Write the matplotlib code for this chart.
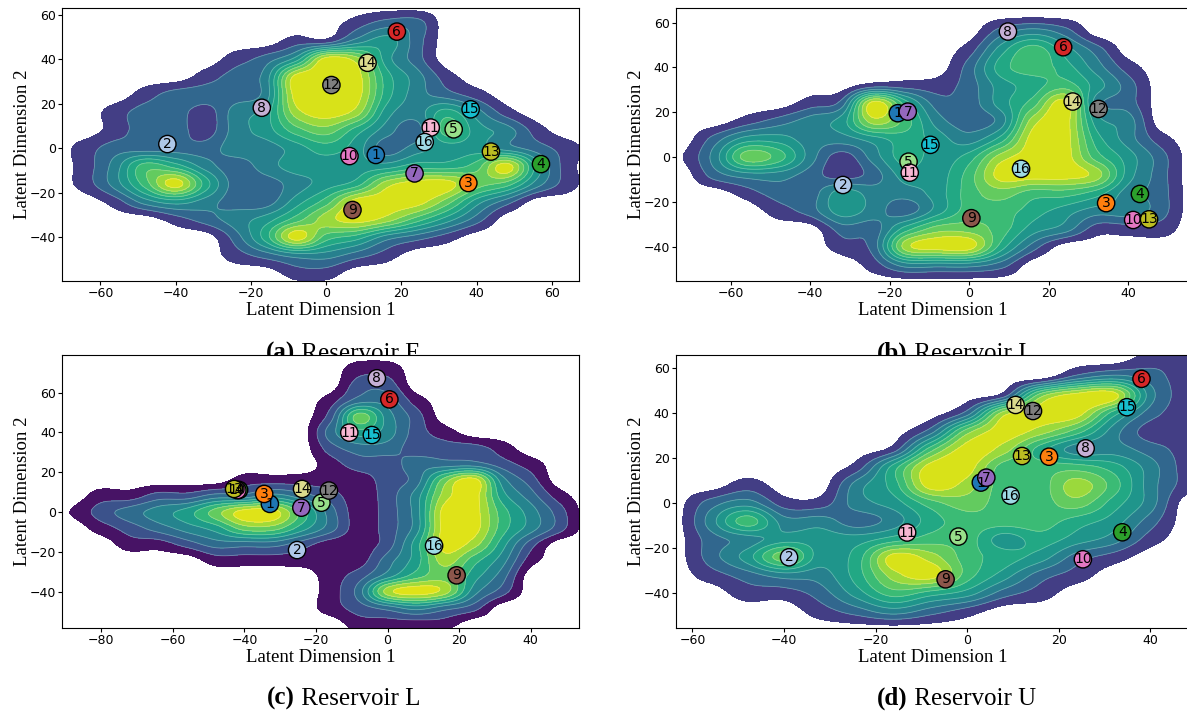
import matplotlib
matplotlib.use("Agg")
import matplotlib.pyplot as plt
import numpy as np

W, H = 1187, 711

# numbered points 1..16 per reservoir
E_X = [13.2, -42.2, 37.8, 57.1, 33.9, 18.8, 23.5, -17.1, 7.0, 6.2, 27.8, 1.4, 43.8, 11.0, 38.4, 26.2]
E_Y = [-3.0, 1.9, -15.6, -7.1, 8.5, 52.4, -11.3, 18.2, -27.7, -3.5, 9.3, 28.4, -1.5, 38.4, 17.5, 2.8]

I_X = [-18.0, -31.8, 34.4, 42.9, -15.3, 23.6, -15.5, 9.7, 0.5, 41.2, -15.0, 32.5, 45.2, 26.0, -9.8, 13.0]
I_Y = [19.6, -12.4, -20.5, -16.4, -2.0, 49.0, 20.3, 56.0, -27.2, -28.0, -6.9, 21.5, -27.7, 24.8, 5.5, -5.2]

L_X = [-32.9, -25.3, -34.5, -41.5, -18.5, 0.5, -24.1, -3.0, 19.3, -42.0, -10.7, -16.4, -42.9, -23.9, -4.4, 13.0]
L_Y = [4.1, -19.1, 9.1, 11.1, 4.7, 56.6, 2.2, 67.2, -31.8, 11.0, 39.9, 10.8, 11.6, 11.6, 38.7, -16.9]

U_X = [3.0, -38.9, 17.9, 33.9, -1.9, 38.1, 4.2, 25.9, -4.7, 25.3, -13.1, 14.4, 12.0, 10.6, 34.9, 9.5]
U_Y = [9.2, -24.0, 20.7, -12.9, -14.8, 55.3, 11.4, 24.4, -33.8, -24.9, -13.0, 41.0, 21.0, 43.7, 42.7, 3.4]

# density band (0 = outside, 1 = outer purple ... 9 = yellow) read on an 8-unit lattice
E_GX = [-72, -64, -56, -48, -40, -32, -24, -16, -8, 0, 8, 16, 24, 32, 40, 48, 56, 64, 72]
E_GY = [64, 56, 48, 40, 32, 24, 16, 8, 0, -8, -16, -24, -32, -40, -48, -56, -64]
E_BANDS = [
    [0, 0, 0, 0, 0, 0, 0, 0, 0, 0, 0, 0, 0, 0, 0, 0, 0, 0, 0],
    [0, 0, 0, 0, 0, 0, 0, 0, 0, 0, 1, 2, 2, 0, 0, 0, 0, 0, 0],
    [0, 0, 0, 0, 0, 0, 0, 0, 1, 1, 3, 4, 2, 0, 0, 0, 0, 0, 0],
    [0, 0, 0, 0, 0, 0, 1, 2, 4, 9, 8, 4, 2, 0, 0, 0, 0, 0, 0],
    [0, 0, 0, 0, 0, 1, 2, 3, 9, 9, 9, 5, 3, 1, 0, 0, 0, 0, 0],
    [0, 0, 0, 1, 2, 2, 2, 3, 9, 9, 9, 5, 3, 2, 1, 0, 0, 0, 0],
    [0, 0, 1, 2, 2, 1, 3, 4, 8, 9, 8, 4, 3, 5, 3, 1, 0, 0, 0],
    [0, 0, 1, 2, 2, 1, 3, 4, 6, 7, 5, 3, 2, 6, 4, 3, 1, 0, 0],
    [0, 1, 2, 2, 2, 2, 3, 3, 4, 5, 4, 2, 3, 4, 4, 3, 2, 1, 0],
    [0, 1, 3, 6, 5, 3, 2, 3, 4, 4, 4, 4, 5, 5, 6, 9, 4, 1, 0],
    [0, 1, 3, 6, 9, 5, 2, 2, 3, 4, 5, 8, 9, 9, 7, 6, 3, 1, 0],
    [0, 0, 1, 3, 4, 3, 2, 2, 4, 6, 9, 9, 9, 7, 4, 2, 0, 0, 0],
    [0, 0, 0, 0, 1, 2, 3, 4, 6, 8, 9, 8, 6, 4, 2, 0, 0, 0, 0],
    [0, 0, 0, 0, 0, 0, 2, 5, 9, 6, 5, 3, 2, 1, 0, 0, 0, 0, 0],
    [0, 0, 0, 0, 0, 0, 1, 2, 3, 3, 2, 1, 0, 0, 0, 0, 0, 0, 0],
    [0, 0, 0, 0, 0, 0, 0, 0, 1, 1, 0, 0, 0, 0, 0, 0, 0, 0, 0],
    [0, 0, 0, 0, 0, 0, 0, 0, 0, 0, 0, 0, 0, 0, 0, 0, 0, 0, 0],
]

I_GX = [-80, -72, -64, -56, -48, -40, -32, -24, -16, -8, 0, 8, 16, 24, 32, 40, 48, 56, 64]
I_GY = [72, 64, 56, 48, 40, 32, 24, 16, 8, 0, -8, -16, -24, -32, -40, -48, -56, -64]
I_BANDS = [
    [0, 0, 0, 0, 0, 0, 0, 0, 0, 0, 0, 0, 0, 0, 0, 0, 0, 0, 0],
    [0, 0, 0, 0, 0, 0, 0, 0, 0, 0, 0, 0, 0, 0, 0, 0, 0, 0, 0],
    [0, 0, 0, 0, 0, 0, 0, 0, 0, 0, 0, 2, 3, 2, 0, 0, 0, 0, 0],
    [0, 0, 0, 0, 0, 0, 0, 0, 0, 0, 1, 4, 6, 4, 2, 0, 0, 0, 0],
    [0, 0, 0, 0, 0, 0, 0, 0, 0, 0, 2, 5, 6, 5, 3, 1, 0, 0, 0],
    [0, 0, 0, 0, 0, 0, 0, 1, 1, 1, 2, 4, 5, 6, 4, 2, 0, 0, 0],
    [0, 0, 0, 0, 0, 1, 2, 9, 5, 2, 2, 4, 6, 9, 3, 2, 0, 0, 0],
    [0, 0, 0, 1, 2, 3, 4, 8, 6, 3, 2, 3, 8, 9, 4, 3, 0, 0, 0],
    [0, 0, 2, 4, 4, 3, 3, 4, 5, 4, 3, 5, 9, 9, 5, 3, 1, 0, 0],
    [0, 0.5, 3, 7, 6, 3, 1, 3, 5, 4, 5, 8, 9, 9, 6, 4, 2, 0, 0],
    [0, 0, 2, 3, 3, 2, 1, 2, 4, 4, 6, 9, 9, 9, 8, 4, 2, 0, 0],
    [0, 0, 0, 1, 2, 2, 4, 3, 3, 4, 6, 7, 6, 6, 5, 3, 2, 0, 0],
    [0, 0, 0, 0, 1, 2, 4, 3, 2, 4, 6, 6, 5, 4, 3, 3, 2, 0, 0],
    [0, 0, 0, 0, 0, 0, 2, 2, 5, 7, 7, 6, 4, 3, 1, 1, 1, 0, 0],
    [0, 0, 0, 0, 0, 0, 1, 2, 8, 9, 9, 5, 2, 0, 0, 0, 0, 0, 0],
    [0, 0, 0, 0, 0, 0, 0, 1, 3, 3, 3, 2, 0, 0, 0, 0, 0, 0, 0],
    [0, 0, 0, 0, 0, 0, 0, 0, 0, 0, 0, 0, 0, 0, 0, 0, 0, 0, 0],
    [0, 0, 0, 0, 0, 0, 0, 0, 0, 0, 0, 0, 0, 0, 0, 0, 0, 0, 0],
]

L_GX = [-96, -88, -80, -72, -64, -56, -48, -40, -32, -24, -16, -8, 0, 8, 16, 24, 32, 40, 48, 56, 64]
L_GY = [88, 80, 72, 64, 56, 48, 40, 32, 24, 16, 8, 0, -8, -16, -24, -32, -40, -48, -56, -64]
L_BANDS = [
    [0, 0, 0, 0, 0, 0, 0, 0, 0, 0, 0, 0, 0, 0, 0, 0, 0, 0, 0, 0, 0],
    [0, 0, 0, 0, 0, 0, 0, 0, 0, 0, 0, 0, 0, 0, 0, 0, 0, 0, 0, 0, 0],
    [0, 0, 0, 0, 0, 0, 0, 0, 0, 0, 0, 1, 1, 0, 0, 0, 0, 0, 0, 0, 0],
    [0, 0, 0, 0, 0, 0, 0, 0, 0, 0, 0, 2, 2, 0, 0, 0, 0, 0, 0, 0, 0],
    [0, 0, 0, 0, 0, 0, 0, 0, 0, 0, 1, 3, 3, 1, 0, 0, 0, 0, 0, 0, 0],
    [0, 0, 0, 0, 0, 0, 0, 0, 0, 0, 2, 7, 4, 2, 0, 0, 0, 0, 0, 0, 0],
    [0, 0, 0, 0, 0, 0, 0, 0, 0, 0, 3, 5, 4, 2, 1, 0, 0, 0, 0, 0, 0],
    [0, 0, 0, 0, 0, 0, 0, 0, 0, 0, 2, 3, 3, 2, 2, 2, 1, 0, 0, 0, 0],
    [0, 0, 0, 0, 0, 0, 0, 0, 0, 0, 1, 2, 2, 3, 3, 3, 2, 1, 0, 0, 0],
    [0, 0, 0, 0, 0, 0, 0, 1, 1, 1, 1, 1, 2, 3, 7, 9, 4, 2, 0, 0, 0],
    [0, 0, 1, 1, 2, 2, 3, 3, 4, 3, 2, 1, 2, 4, 8, 9, 5, 3, 1, 0, 0],
    [0, 0.6, 2, 3, 4, 5, 7, 9, 9, 6, 3, 1, 2, 4, 9, 9, 6, 4, 2, 0, 0],
    [0, 0, 1, 2, 3, 4, 5, 7, 7, 5, 3, 1, 2, 4, 9, 9, 6, 4, 2, 0, 0],
    [0, 0, 0, 1, 1, 2, 3, 3, 3, 2, 1, 1, 2, 5, 9, 8, 5, 2, 0, 0, 0],
    [0, 0, 0, 0, 0, 0, 1, 1, 1, 1, 1, 1, 3, 5, 8, 6, 4, 1, 0, 0, 0],
    [0, 0, 0, 0, 0, 0, 0, 0, 0, 0, 1, 2, 4, 6, 7, 5, 3, 0, 0, 0, 0],
    [0, 0, 0, 0, 0, 0, 0, 0, 0, 0, 1, 3, 8, 9, 8, 4, 2, 0, 0, 0, 0],
    [0, 0, 0, 0, 0, 0, 0, 0, 0, 0, 1, 2, 3, 4, 3, 2, 0, 0, 0, 0, 0],
    [0, 0, 0, 0, 0, 0, 0, 0, 0, 0, 0, 1, 1, 1, 1, 0, 0, 0, 0, 0, 0],
    [0, 0, 0, 0, 0, 0, 0, 0, 0, 0, 0, 0, 0, 0, 0, 0, 0, 0, 0, 0, 0],
]

U_GX = [-72, -64, -56, -48, -40, -32, -24, -16, -8, 0, 8, 16, 24, 32, 40, 48, 56]
U_GY = [72, 64, 56, 48, 40, 32, 24, 16, 8, 0, -8, -16, -24, -32, -40, -48, -56, -64]
U_BANDS = [
    [0, 0, 0, 0, 0, 0, 0, 0, 0, 0, 0, 0, 0, 0, 0, 0, 0],
    [0, 0, 0, 0, 0, 0, 0, 0, 0, 0, 0, 0, 0, 0, 1, 1, 0],
    [0, 0, 0, 0, 0, 0, 0, 0, 0, 0, 0, 0, 2, 3, 2, 1, 1],
    [0, 0, 0, 0, 0, 0, 0, 0, 0, 0, 1, 7, 9, 9, 3, 1, 1],
    [0, 0, 0, 0, 0, 0, 0, 0, 0, 2, 8, 9, 9, 5, 2, 1, 1],
    [0, 0, 0, 0, 0, 0, 0, 0, 2, 7, 9, 8, 6, 3, 1, 1, 0],
    [0, 0, 0, 0, 0, 0, 0, 1, 6, 9, 8, 5, 3, 3, 2, 1, 0],
    [0, 0, 0, 0, 0, 0, 1, 5, 9, 9, 6, 6, 6, 5, 3, 1, 0],
    [0, 0, 0, 1, 0, 0, 3, 5, 9, 8, 6, 6, 8, 6, 3, 1, 0],
    [0, 0, 2, 3, 1, 1, 3, 4, 6, 7, 6, 6, 7, 5, 3, 0, 0],
    [0, 0, 3, 6, 3, 3, 2, 3, 5, 6, 6, 6, 5, 4, 2, 0, 0],
    [0, 0, 2, 3, 4, 4, 4, 5, 6, 6, 4, 5, 4, 3, 1, 0, 0],
    [0, 0, 2, 4, 7, 4, 5, 9, 8, 6, 5, 4, 2, 1, 0, 0, 0],
    [0, 0, 1, 2, 3, 3, 5, 8, 9, 6, 4, 2, 1, 0, 0, 0, 0],
    [0, 0, 0, 1, 1, 2, 4, 6, 5, 4, 2, 1, 0, 0, 0, 0, 0],
    [0, 0, 0, 0, 0, 1, 2, 3, 2, 1, 0, 0, 0, 0, 0, 0, 0],
    [0, 0, 0, 0, 0, 0, 0, 0, 0, 0, 0, 0, 0, 0, 0, 0, 0],
    [0, 0, 0, 0, 0, 0, 0, 0, 0, 0, 0, 0, 0, 0, 0, 0, 0],
]

# viridis position of each band, outer purple to yellow
E_SHADES = [0.18, 0.33, 0.43, 0.52, 0.60, 0.68, 0.76, 0.85, 0.94]
I_SHADES = [0.18, 0.33, 0.43, 0.52, 0.60, 0.68, 0.76, 0.85, 0.94]
L_SHADES = [0.05, 0.25, 0.35, 0.45, 0.55, 0.66, 0.76, 0.86, 0.95]
U_SHADES = [0.18, 0.33, 0.43, 0.52, 0.60, 0.68, 0.76, 0.85, 0.94]

PANELS = [
    ("(a)", "Reservoir E", E_X, E_Y, (E_GX, E_GY, E_BANDS), E_SHADES, (-70.1, 67.1), (-59.6, 63.0),
     [-60, -40, -20, 0, 20, 40, 60], [-40, -20, 0, 20, 40, 60], (62.4, 8, 516.2, 273), 295, 360),
    ("(b)", "Reservoir I", I_X, I_Y, (I_GX, I_GY, I_BANDS), I_SHADES, (-73.8, 55.5), (-55.2, 66.5),
     [-60, -40, -20, 0, 20, 40], [-40, -20, 0, 20, 40, 60], (676, 8, 514, 273), 908, 360),
    ("(c)", "Reservoir L", L_X, L_Y, (L_GX, L_GY, L_BANDS), L_SHADES, (-90.9, 53.4), (-58.1, 78.9),
     [-80, -60, -40, -20, 0, 20, 40], [-40, -20, 0, 20, 40, 60], (62.4, 355, 516.2, 272.7), 295, 705),
    ("(d)", "Reservoir U", U_X, U_Y, (U_GX, U_GY, U_BANDS), U_SHADES, (-63.6, 48.7), (-55.3, 65.9),
     [-60, -40, -20, 0, 20, 40], [-40, -20, 0, 20, 40, 60], (676, 355, 514, 272.7), 908, 705),
]

COLORS = plt.cm.tab20(np.linspace(0, 1, 16))
STEP = 8.0


def cubic_weights(fine, nodes):
    # Keys cubic convolution kernel, so the field passes through the read values
    t = np.abs(fine[:, None] - np.asarray(nodes, dtype=float)[None, :]) / STEP
    near = 1.5 * t**3 - 2.5 * t**2 + 1
    far = -0.5 * t**3 + 2.5 * t**2 - 4 * t + 2
    return np.where(t <= 1, near, np.where(t < 2, far, 0.0))


def band_field(lattice, xlim, ylim):
    gx, gy, bands = lattice
    fx = np.linspace(xlim[0] - 2, xlim[1] + 2, 500)
    fy = np.linspace(ylim[0] - 2, ylim[1] + 2, 500)
    field = cubic_weights(fy, gy) @ np.asarray(bands, dtype=float) @ cubic_weights(fx, gx).T
    xx, yy = np.meshgrid(fx, fy)
    return xx, yy, field


def draw_panel(fig, spec):
    tag, name, px, py, lattice, shades, xlim, ylim, xticks, yticks, box, cap_x, cap_y = spec
    left, top, width, height = box
    ax = fig.add_axes([left / W, 1 - (top + height) / H, width / W, height / H])
    xx, yy, field = band_field(lattice, xlim, ylim)
    levels = np.arange(0.5, 9.5, 1.0).tolist() + [99]
    ax.contourf(xx, yy, field, levels=levels, colors=plt.cm.viridis(shades))
    ax.contour(xx, yy, field, levels=levels[1:-1], colors="white", alpha=0.3, linewidths=0.6)
    ax.scatter(px, py, s=155, c=COLORS, edgecolors="black", linewidths=1, zorder=3)
    for i, (x, y) in enumerate(zip(px, py)):
        ax.text(x, y, str(i + 1), ha="center", va="center", fontsize=10, zorder=4)
    ax.set_xlim(*xlim)
    ax.set_ylim(*ylim)
    ax.set_xticks(xticks)
    ax.set_yticks(yticks)
    ax.tick_params(labelsize=9, length=3, pad=1.5)
    ax.set_xlabel("Latent Dimension 1", family="Liberation Serif", fontsize=13.5, labelpad=1.5)
    ax.set_ylabel("Latent Dimension 2", family="Liberation Serif", fontsize=13.5, labelpad=-1)
    fig.text(cap_x / W, 1 - cap_y / H, tag, family="Liberation Serif", fontweight="bold",
             fontsize=18, ha="right", va="baseline", zorder=-1)
    fig.text(cap_x / W, 1 - cap_y / H, " " + name, family="Liberation Serif",
             fontsize=18, ha="left", va="baseline", zorder=-1)
    return ax


fig = plt.figure(figsize=(W / 100, H / 100), dpi=100)
for spec in PANELS:
    draw_panel(fig, spec)
fig.savefig("out.png", dpi=100)
